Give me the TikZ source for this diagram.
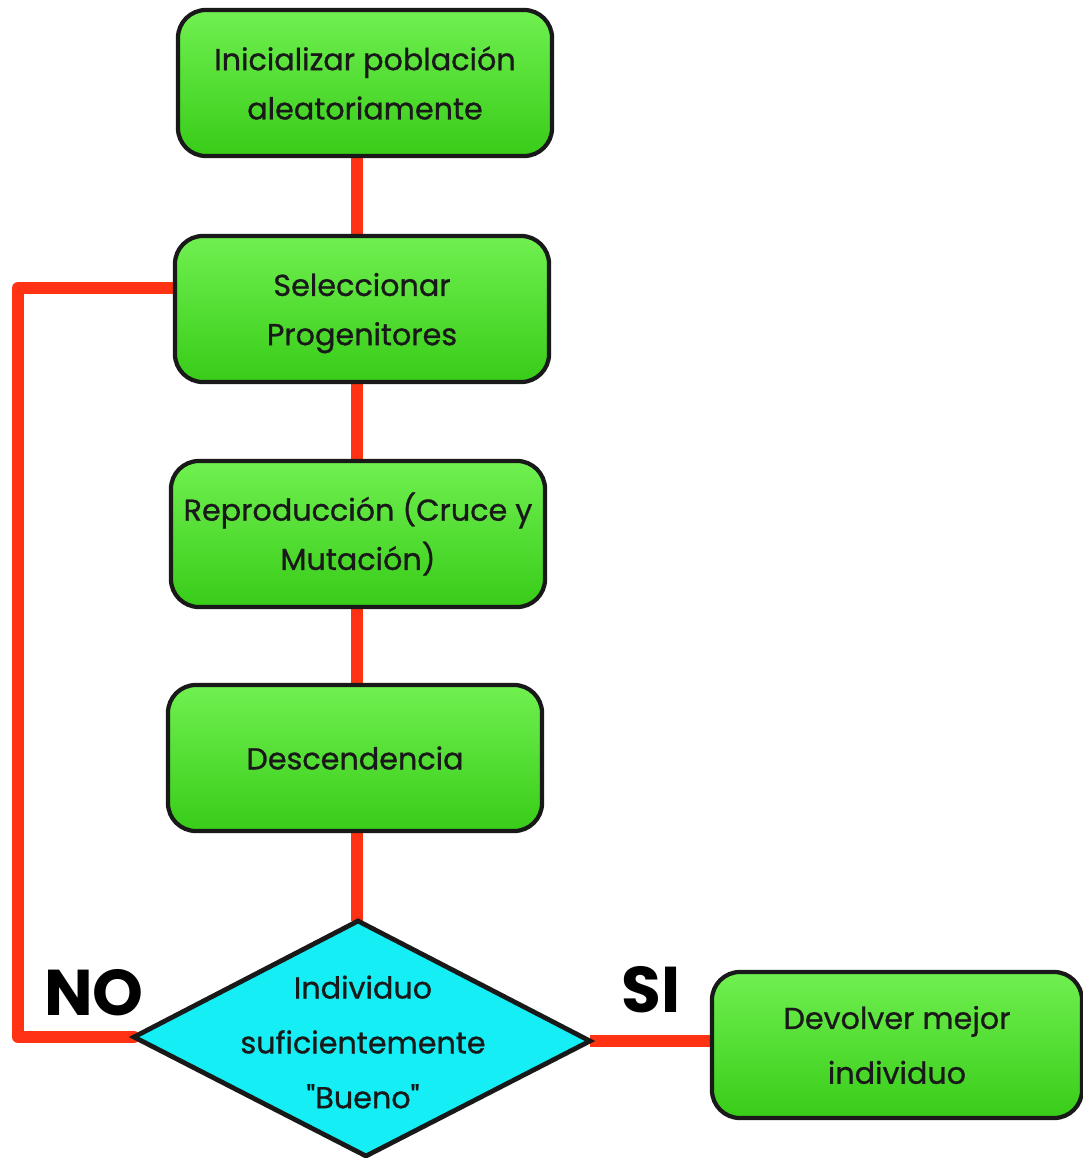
\documentclass[tikz,border=0pt]{standalone}
\usepackage{fontspec}
\setmainfont{Poppins}
\newfontfamily\boxfont{Poppins}[FakeBold=0.9]
\usetikzlibrary{backgrounds}
\definecolor{lnred}{HTML}{FF3314}
\definecolor{gtop}{HTML}{70F050}
\definecolor{gbot}{HTML}{38CC18}
\definecolor{dcyan}{HTML}{14EEF4}
\tikzset{
  box/.style={draw=black!90, line width=3pt, rounded corners=0.7cm,
    top color=gtop, bottom color=gbot, minimum width=9.35cm, minimum height=3.65cm,
    align=center, font=\boxfont\fontsize{21.5}{35}\selectfont, text=black!90, inner sep=2pt},
  dtext/.style={align=center, font=\boxfont\fontsize{21.5}{39}\selectfont, text=black!90, inner sep=0pt},
  dshape/.style={draw=black!90, line width=3.4pt, fill=dcyan, line join=miter},
  link/.style={draw=lnred, line width=8.5pt},
  lbl/.style={font=\fontsize{46}{50}\selectfont\bfseries, text=black}
}
\begin{document}
\begin{tikzpicture}[x=0.025cm,y=-0.025cm]
\useasboundingbox (0,0) rectangle (1083,1158);
\node[box] (ini) at (365,83) {Inicializar población\\aleatoriamente};
\node[box] (sel) at (362,309) {\\[-0.45cm]Seleccionar\\Progenitores};
\node[box] (rep) at (358,534) {Reproducción (Cruce y\\Mutación)};
\node[box] (des) at (355,758) {Descendencia};
\coordinate (dN) at (358,921);
\coordinate (dW) at (134,1037);
\coordinate (dE) at (590,1041);
\coordinate (dS) at (366,1156);
\draw[dshape] (dN) -- (dE) -- (dS) -- (dW) -- cycle;
\node[dtext] (dia) at (363,1042) {Individuo\\suficientemente\\\symbol{34}Bueno\symbol{34}};
\node[box, minimum width=9.25cm, font=\boxfont\fontsize{21.5}{39}\selectfont] (dev) at (897,1045) {Devolver mejor\\individuo};
\node[lbl] (no) at (94,993) {NO};
\node[lbl] (si) at (651,990) {SI};
\coordinate (vx) at (357,0);
\coordinate (c1) at (18,288);
\coordinate (c2) at (18,1037);
\begin{scope}[on background layer]
\draw[link] (vx |- ini.south) -- (vx |- sel.north);
\draw[link] (vx |- sel.south) -- (vx |- rep.north);
\draw[link] (vx |- rep.south) -- (vx |- des.north);
\draw[link] (vx |- des.south) -- (vx |- dN);
\draw[link, line join=round, line cap=round] (c1 -| sel.west) -- (c1) -- (c2) -- (dW);
\draw[link] (dE) -- (dE -| dev.west);
\end{scope}
\end{tikzpicture}
\end{document}
